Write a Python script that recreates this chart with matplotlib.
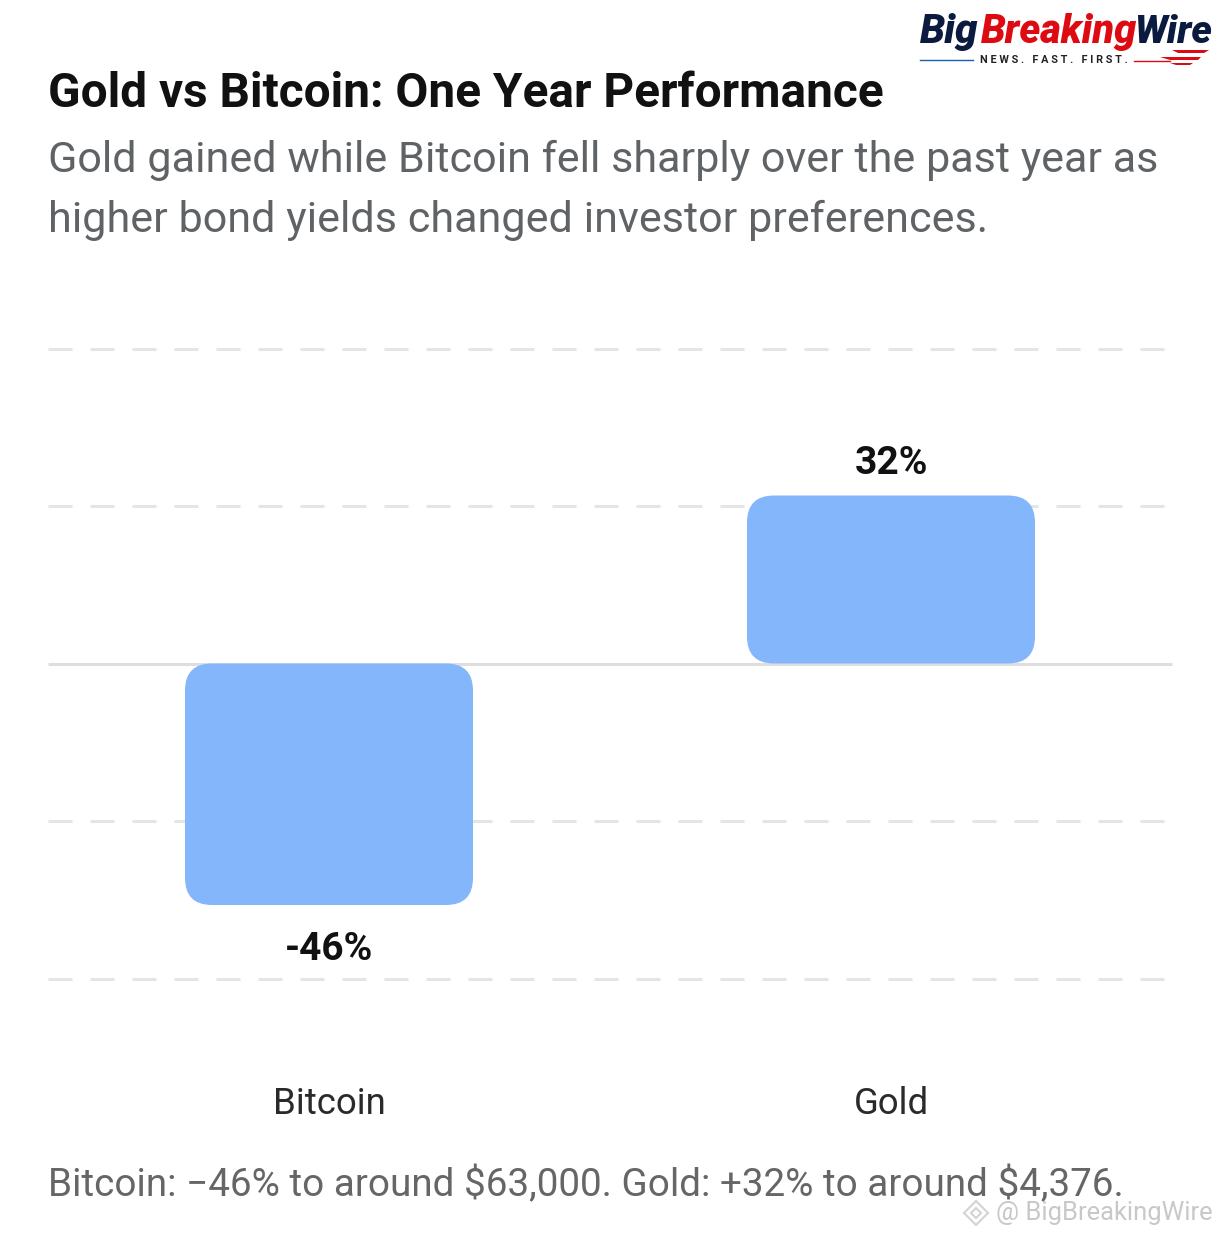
#!/usr/bin/env python

import matplotlib
matplotlib.use('Agg')
import matplotlib.pyplot as plt
from matplotlib.lines import Line2D
from matplotlib.patches import FancyBboxPatch, Polygon

categories = ['Bitcoin', 'Gold']
values = [-46, 32]
grid_values = [-60, -30, 30, 60]
value_labels = ['-46%', '32%']

title = 'Gold vs Bitcoin: One Year Performance'
subtitle = ['Gold gained while Bitcoin fell sharply over the past year as',
            'higher bond yields changed investor preferences.']
footer = 'Bitcoin: \u221246% to around \\$63,000. Gold: +32% to around \\$4,376.'

W, H = 1220, 1236
plt.rcParams['font.family'] = ['Roboto', 'DejaVu Sans']
plt.rcParams['lines.scale_dashes'] = False


def fx(x):
    return x / W


def fy(y):
    return 1 - y / H


def put(x, y, s, **kw):
    # pixel position on the figure, y counted from the top
    return fig.text(fx(x), fy(y), s, va='baseline', **kw)


fig = plt.figure(figsize=(W / 100, H / 100), dpi=100)
ax = fig.add_axes([fx(48), fy(978.5), (1172 - 48) / W, (979 - 349) / H])
ax.set_xlim(-0.5, 1.5)
ax.set_ylim(-60, 60)
ax.axis('off')

for g in grid_values:
    ax.plot([-0.5, 1.5], [g, g], color='#e5e5e5', lw=2.2, dashes=(17.28, 12.96), clip_on=False, zorder=1)
ax.plot([-0.5, 1.5], [0, 0], color='#dedede', lw=2.2, solid_capstyle='butt', clip_on=False, zorder=1)

bar_w = 288 / 562
x_unit = 562
y_unit = 630 / 120
radius = 27 / x_unit
for i, v in enumerate(values):
    bar = FancyBboxPatch((i - bar_w / 2, min(v, 0)), bar_w, abs(v),
                         boxstyle='round,pad=0,rounding_size=%f' % radius,
                         mutation_aspect=x_unit / y_unit,
                         fc='#84b6fb', ec='none', zorder=3)
    ax.add_patch(bar)
    if v > 0:
        ax.annotate(value_labels[i], (i, v), xytext=(0, 22), textcoords='offset pixels',
                    ha='center', va='baseline', fontsize=28, fontweight='bold', color='#111111')
    else:
        ax.annotate(value_labels[i], (i, v), xytext=(0, -55), textcoords='offset pixels',
                    ha='center', va='baseline', fontsize=28, fontweight='bold', color='#111111')
    put(329 + 562 * i, 1114, categories[i], ha='center', fontsize=26.4, color='#2a2a2a')

put(48, 107, title, fontsize=34.4, fontweight='bold', color='#111111')
put(48, 172, subtitle[0], fontsize=31.1, color='#606366')
put(48, 232, subtitle[1], fontsize=31.1, color='#606366')
put(48, 1196, footer, fontsize=27.8, color='#666666')

# logo
put(920, 43, 'Big', fontsize=29, fontweight='black', style='italic', color='#0b1b3f')
put(981, 43, 'Breaking', fontsize=28.5, fontweight='black', style='italic', color='#dd0a12')
put(1134, 43, 'Wire', fontsize=28, fontweight='black', style='italic', color='#0b1b3f')
put(980, 63, 'N E W S .   F A S T .   F I R S T .', fontsize=7.8, fontweight='bold', color='#222222')
fig.add_artist(Line2D([fx(920), fx(973)], [fy(59.5), fy(59.5)], color='#1a5fb4', lw=1))
fig.add_artist(Line2D([fx(1134), fx(1170)], [fy(60.5), fy(60.5)], color='#dd0a12', lw=1))
streak = [[(1172, 50), (1209, 50), (1204, 53), (1178, 53)],
          [(1160, 57), (1201, 57), (1198, 60), (1170, 60)],
          [(1170, 63), (1193, 63), (1190, 65), (1176, 65)]]
for pts in streak:
    fig.add_artist(Polygon([(fx(a), fy(b)) for a, b in pts], closed=True, fc='#dd0a12', ec='none',
                           transform=fig.transFigure))

# watermark
put(996, 1220, '@ BigBreakingWire', fontsize=18.4, color='#c8c8c8')
for cx, cy, r in [(976, 1213, 12), (976, 1213, 5)]:
    fig.add_artist(Polygon([(fx(cx - r), fy(cy)), (fx(cx), fy(cy - r)), (fx(cx + r), fy(cy)), (fx(cx), fy(cy + r))],
                           closed=True, fc='none', ec='#d4d4d4', lw=1.5, transform=fig.transFigure))

fig.savefig('out.png', dpi=100, facecolor='white')
